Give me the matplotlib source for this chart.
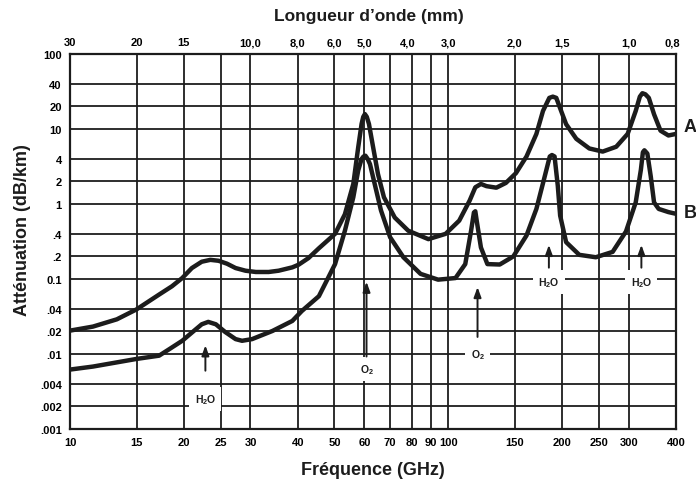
import numpy as np
import matplotlib
matplotlib.use('Agg')
import matplotlib.pyplot as plt

plt.rcParams['font.family'] = ['Liberation Sans', 'DejaVu Sans']
plt.rcParams['mathtext.default'] = 'regular'

# Curve A (upper): frequency (GHz) / attenuation (dB/km)
freq_a = [10, 11.5, 13.3, 15.0, 17.2, 18.6, 19.8, 21.0, 22.3, 23.5,
          24.7, 26.0, 27.4, 29.1, 31.0, 33.5, 35.6, 38.7, 40.2, 42.7,
          45.5, 50.2, 53.3, 56.1, 57.8, 59.0, 59.6, 60.2, 60.9, 61.7,
          63.3, 65.2, 67.6, 72.2, 78.4, 88.6, 98.4, 106.9, 113.9, 117.9,
          122, 126.2, 134, 142, 151, 161, 171, 178, 185, 189,
          193, 198.8, 204.9, 218, 236, 256, 278, 298, 313, 321,
          326, 332, 339, 350, 364, 382, 400]
att_a = [0.0205, 0.0232, 0.029, 0.0394, 0.062, 0.080, 0.103, 0.14, 0.17, 0.18,
         0.175, 0.16, 0.14, 0.129, 0.124, 0.124, 0.129, 0.143, 0.155, 0.19,
         0.257, 0.40, 0.73, 1.85, 5.7, 11.7, 14.5, 15.8, 14.5, 11.7,
         5.7, 2.5, 1.23, 0.66, 0.44, 0.34, 0.40, 0.60, 1.11, 1.67,
         1.85, 1.73, 1.65, 1.91, 2.58, 4.3, 8.6, 17.4, 26, 27,
         26, 17.4, 11.6, 7.4, 5.5, 5.0, 5.8, 8.6, 17.4, 27,
         30, 29, 26, 15.7, 9.5, 8.2, 8.6]

# Curve B (lower)
freq_b = [10, 11.5, 15.0, 17.2, 18.3, 19.8, 21.0, 22.3, 23.2, 24.3,
          25.7, 27.4, 28.5, 30.3, 34.3, 38.7, 41.0, 45.5, 50.2, 53.3,
          56.1, 57.8, 59.0, 59.7, 60.4, 61.2, 62.1, 63.9, 66.4, 70.2,
          76.1, 84.5, 94.0, 104.5, 110.9, 114.9, 116.9, 117.9, 118.9, 122,
          126.9, 136.8, 148.6, 161, 171, 180, 185.5, 188, 191, 194.8,
          197.6, 204.9, 222, 245.5, 272, 295, 313, 323, 327, 330,
          336, 343, 350, 360, 382, 400]
att_b = [0.0062, 0.0068, 0.0086, 0.0095, 0.0116, 0.015, 0.0193, 0.0249, 0.0268, 0.0249,
         0.0197, 0.0158, 0.015, 0.0158, 0.0203, 0.0276, 0.0374, 0.059, 0.158, 0.44,
         1.23, 2.8, 3.98, 4.3, 4.4, 4.0, 3.4, 1.85, 0.82, 0.36,
         0.195, 0.117, 0.098, 0.103, 0.158, 0.44, 0.77, 0.8, 0.6, 0.263,
         0.158, 0.156, 0.2, 0.38, 0.86, 2.36, 4.3, 4.5, 4.3, 1.74,
         0.70, 0.31, 0.21, 0.195, 0.23, 0.43, 1.05, 2.86, 4.9, 5.2,
         4.7, 2.34, 1.05, 0.86, 0.78, 0.74]

x_ticks = [10, 15, 20, 25, 30, 40, 50, 60, 70, 80, 90, 100, 150, 200, 250, 300, 400]
y_ticks = [100, 40, 20, 10, 4, 2, 1, 0.4, 0.2, 0.1, 0.04, 0.02, 0.01, 0.004, 0.002, 0.001]
y_labels = ['100', '40', '20', '10', '4', '2', '1', '.4', '.2', '0.1', '.04', '.02',
            '.01', '.004', '.002', '.001']
top_freqs = [10, 15, 20, 30, 40, 50, 60, 78, 100, 150, 200, 300, 392]
top_labels = ['30', '20', '15', '10,0', '8,0', '6,0', '5,0', '4,0', '3,0', '2,0',
              '1,5', '1,0', '0,8']

# absorption lines: label, frequency, label level, arrow tip, arrow tail
notes = [
    (r'$H_2O$', 22.8, 0.0025, 0.0142, 0.0055),
    (r'$O_2$', 60.8, 0.0063, 0.1, 0.0085),
    (r'$O_2$', 119.5, 0.0100, 0.085, 0.0155),
    (r'$H_2O$', 184.5, 0.091, 0.31, 0.13),
    (r'$H_2O$', 324, 0.091, 0.31, 0.13),
]

ink = '#1c1c1c'

fig = plt.figure(figsize=(6.96, 4.85), dpi=100)
ax = fig.add_axes([70 / 696, 55 / 485, 606 / 696, 375 / 485])
ax.set_xscale('log')
ax.set_yscale('log')
ax.set_xlim(10, 400)
ax.set_ylim(0.001, 100)

# hand-drawn style grid
for f in x_ticks[1:-1]:
    ax.axvline(f, color=ink, lw=1.3, zorder=1)
for v in y_ticks[1:-1]:
    ax.axhline(v, color=ink, lw=1.3, zorder=1)

ax.plot(freq_a, att_a, color=ink, lw=3.2, solid_joinstyle='round',
        solid_capstyle='round', zorder=3)
ax.plot(freq_b, att_b, color=ink, lw=3.2, solid_joinstyle='round',
        solid_capstyle='round', zorder=3)

for lab, f, ty, tip, tail in notes:
    ax.text(f, ty, lab, ha='center', va='center', fontsize=7.5, fontweight='bold',
            color=ink, zorder=4,
            bbox=dict(boxstyle='square,pad=0.5', facecolor='white', edgecolor='none'))
    ax.annotate('', xy=(f, tip), xytext=(f, tail),
                arrowprops=dict(arrowstyle='-|>,head_length=0.6,head_width=0.22',
                                color=ink, lw=1.4), zorder=4)

ax.set_xticks(x_ticks)
ax.set_xticklabels([str(t) for t in x_ticks])
ax.set_yticks(y_ticks)
ax.set_yticklabels(y_labels)
ax.minorticks_off()
ax.tick_params(length=0, labelsize=8, pad=6)
for lab in ax.get_xticklabels() + ax.get_yticklabels():
    lab.set_fontweight('bold')
for s in ax.spines.values():
    s.set_linewidth(1.6)
    s.set_color(ink)

# wavelength scale on top
top = ax.twiny()
top.set_xscale('log')
top.set_xlim(10, 400)
top.set_xticks(top_freqs)
top.set_xticklabels(top_labels)
top.minorticks_off()
top.tick_params(length=0, labelsize=8, pad=5)
for lab in top.get_xticklabels():
    lab.set_fontweight('bold')
for s in top.spines.values():
    s.set_visible(False)

ax.set_xlabel('Fréquence (GHz)', fontsize=13, fontweight='bold', color=ink)
top.set_xlabel('Longueur d\u2019onde (mm)', fontsize=12.5, fontweight='bold', color=ink)
ax.set_ylabel('Atténuation (dB/km)', fontsize=13, fontweight='bold', color=ink)
ax.xaxis.label.set_va('center')
top.xaxis.label.set_va('center')
ax.yaxis.label.set_va('center')
ax.xaxis.set_label_coords(0.5, -0.107)
top.xaxis.set_label_coords(0.493, 1.104)
ax.yaxis.set_label_coords(-0.079, 0.533)

fig.text(690 / 696, 1 - 128 / 485, 'A', fontsize=13, fontweight='bold',
         ha='center', va='center', color=ink)
fig.text(690 / 696, 1 - 213 / 485, 'B', fontsize=13, fontweight='bold',
         ha='center', va='center', color=ink)

fig.savefig('out.png', dpi=100, facecolor='white')
